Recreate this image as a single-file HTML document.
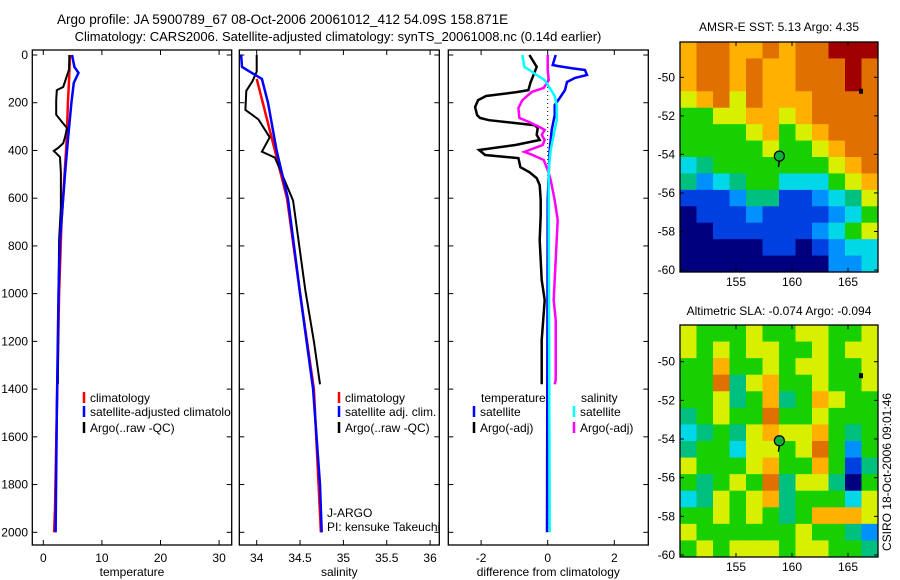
<!DOCTYPE html>
<html><head><meta charset="utf-8">
<style>
html,body{margin:0;padding:0;background:#fff;}
svg{display:block;font-family:"Liberation Sans",sans-serif;}
</style></head>
<body>
<svg id="fig" width="900" height="580" viewBox="0 0 900 580" xmlns="http://www.w3.org/2000/svg">
<rect width="900" height="580" fill="#fff"/>
<text x="57" y="24" font-size="13.5" text-anchor="start">Argo profile: JA 5900789_67 08-Oct-2006 20061012_412 54.09S 158.871E</text>
<text x="338" y="41" font-size="13" text-anchor="middle">Climatology: CARS2006. Satellite-adjusted climatology: synTS_20061008.nc (0.14d earlier)</text>
<text x="779" y="31" font-size="12" text-anchor="middle">AMSR-E SST: 5.13 Argo: 4.35</text>
<text x="779" y="315" font-size="12" text-anchor="middle">Altimetric SLA: -0.074 Argo: -0.094</text>
<text transform="translate(891,472) rotate(-90)" font-size="12" text-anchor="middle">CSIRO 18-Oct-2006 09:01:46</text>
<g id="plots"></g>
</svg>
<script>
// ---------- profile data ----------
const tempArgoDepth = [0,60,134,147,190,250,281,306,345,370,390,402,428,495,637,775,1000,1200,1380];
const tempArgo      = [4.44,4.4,3.4,2.3,2.2,2.2,3.2,4.05,3.7,3.4,2.5,1.8,2.85,3.0,3.0,2.7,2.6,2.55,2.5];
const tempSatDepth  = [0,50,75,117,200,356,500,775,1000,1500,2000];
const tempSat       = [4.9,5.3,6.0,5.2,4.8,4.2,3.7,2.85,2.6,2.3,2.1];
const tempClimDepth = [0,100,200,356,470,700,1000,1500,1900,2000];
const tempClim      = [4.55,4.4,4.2,4.0,3.7,3.1,2.7,2.3,2.0,1.85];

const salArgoDepth = [0,70,110,150,230,270,345,405,430,480,610,985,1200,1380];
const salArgo      = [34.0,34.0,33.95,33.88,33.87,34.02,34.15,34.06,34.21,34.27,34.42,34.56,34.66,34.73];
const salSatDepth  = [0,50,70,100,200,400,600,1000,1400,1800,2000];
const salSat       = [33.82,33.83,33.92,34.06,34.13,34.23,34.36,34.5,34.65,34.73,34.75];
const salClimDepth = [100,200,400,600,1000,1400,2000];
const salClim      = [34.0,34.07,34.21,34.35,34.5,34.66,34.74];

const dTArgoDepth = [0,50,117,147,155,172,189,218,252,264,273,294,306,335,356,377,398,419,432,470,491,516,545,608,671,776,943,1027,1195,1380];
const dTArgo      = [-0.55,-0.33,-0.52,-0.58,-0.91,-1.85,-2.09,-2.18,-2.12,-2.03,-1.76,-0.39,-0.3,-0.33,-0.24,-0.97,-2.06,-1.88,-0.88,-0.82,-0.55,-0.33,-0.24,-0.21,-0.21,-0.24,-0.18,-0.09,-0.18,-0.18];
const dTSatDepth  = [0,42,46,55,63,84,96,113,147,180,210,252,314,398,608,2000];
const dTSat       = [0.24,0.15,0.3,0.7,1.12,1.18,0.82,0.58,0.52,0.36,0.21,0.21,0.12,0.06,0,-0.02];
const dSSatDepth  = [0,50,63,84,105,138,172,210,273,314,356,398,482,608,2000];
const dSSat       = [-0.76,-0.7,-0.55,-0.33,-0.09,0.06,0.21,0.27,0.27,0.21,0.15,0.09,0.03,0.03,0.06];
const dSArgoDepth = [0,63,105,138,155,189,222,264,281,302,314,335,356,377,398,406,419,440,482,524,608,692,859,1027,1111,1362,1380];
const dSArgo      = [0,0,0.03,-0.12,-0.48,-0.76,-0.88,-0.85,-0.55,-0.24,-0.09,-0.18,-0.09,-0.15,-0.55,-0.7,-0.45,-0.12,0,0.09,0.21,0.3,0.24,0.18,0.24,0.24,0.21];

// ---------- map grids (colour class 0..9) ----------
const sstRows = ["788778788999","788787788898","788787788898","678687778888","556677678888","555567567888","555556556788","345555555678","423455333567","111244112346","011121111235","001111112356","000001101233","000000000223"];
const slaRows = ["655565566556","656566556566","557556566556","558467556556","556457457655","456558556555","345467667545","455366568525","655567557514","545658466405","346567455536","556565457776","655555565542","565666566554"];
const tickDepths = [0,200,400,600,800,1000,1200,1400,1600,1800,2000];
const tempTicks = [0,10,20,30];
const salTicks = [34,34.5,35,35.5,36];
const diffTicks = [-2,0,2];
const latTicks = [-50,-52,-54,-56,-58,-60];
const lonTicks = [155,160,165];

const NS="http://www.w3.org/2000/svg";
const root=document.getElementById('plots');
function mk(tag,attrs,parent){const e=document.createElementNS(NS,tag);for(const k in attrs)e.setAttribute(k,attrs[k]);(parent||root).appendChild(e);return e;}
function txt(s,x,y,anchor,size,parent){const t=mk('text',{x:x,y:y,'font-size':size||12,'text-anchor':anchor||'start'},parent);t.textContent=s;return t;}

const Y0=55, YS=(532.3-55)/2000;
const yD=d=>Y0+d*YS;
const panels=[
 {name:'temperature',l:32.3,r:231.7,x0:43.3,xs:5.86,ref:0,ticks:tempTicks,label:'temperature'},
 {name:'salinity',l:239.3,r:439.3,x0:256.7,xs:86.7,ref:34,ticks:salTicks,label:'salinity'},
 {name:'difference',l:448.3,r:648.3,x0:547.7,xs:33.3,ref:0,ticks:diffTicks,label:'difference from climatology'}
];
const PT=50, PB=545;
panels.forEach((p,i)=>{
 p.x=v=>p.x0+(v-p.ref)*p.xs;
 const g=mk('g',{});
 
 
 p.g=g;
 mk('rect',{x:p.l,y:PT,width:p.r-p.l,height:PB-PT,fill:'none',stroke:'#000','stroke-width':1.3},g);
 p.ticks.forEach(t=>{const x=p.x(t);
  mk('line',{x1:x,x2:x,y1:PB,y2:PB-5,stroke:'#000'},g);
  mk('line',{x1:x,x2:x,y1:PT,y2:PT+5,stroke:'#000'},g);
  const lb=txt(String(t),x,562,'middle',12,g);
  
  
 });
 tickDepths.forEach(d=>{const y=yD(d);
  mk('line',{x1:p.l,x2:p.l+5,y1:y,y2:y,stroke:'#000'},g);
  mk('line',{x1:p.r,x2:p.r-5,y1:y,y2:y,stroke:'#000'},g);
  if(i===0){const lb=txt(String(d),28,y+4,'end',12,g);
   
   }
 });
 const al=txt(p.label,(p.l+p.r)/2,576,'middle',12,g);
 
 
});
function line(p,depths,vals,color,name,w){
 const pts=depths.map((d,k)=>p.x(vals[k]).toFixed(1)+','+yD(d).toFixed(1)).join(' ');
 const e=mk('polyline',{points:pts,fill:'none',stroke:color,'stroke-width':w||2.5},p.g);
 
 
}
const [P1,P2,P3]=panels;
line(P1,tempClimDepth,tempClim,'#f00','temp-climatology-line');
line(P1,tempArgoDepth,tempArgo,'#000','temp-argo-line',2);
line(P1,tempSatDepth,tempSat,'#00f','temp-satellite-line');
line(P2,salClimDepth,salClim,'#f00','sal-climatology-line');
line(P2,salArgoDepth,salArgo,'#000','sal-argo-line',2);
line(P2,salSatDepth,salSat,'#00f','sal-satellite-line');
mk('line',{x1:P3.x(0),x2:P3.x(0),y1:55,y2:532,stroke:'#000','stroke-dasharray':'1,3'},P3.g);
line(P3,dTArgoDepth,dTArgo,'#000','dtemp-argo-line');
line(P3,dSArgoDepth,dSArgo,'#f0f','dsal-argo-line');
line(P3,dTSatDepth,dTSat,'#00f','dtemp-satellite-line');
line(P3,dSSatDepth,dSSat,'#0ff','dsal-satellite-line');

function legend(g,x,y,color,label){
 if(color) mk('line',{x1:x,x2:x,y1:y-10,y2:y+1,stroke:color,'stroke-width':2.5},g);
 const t=txt(label,x+6,y,'start',12,g);
 
 
}
const cp=mk('clipPath',{id:'c1'});mk('rect',{x:32,y:50,width:199,height:495},cp);
const lg1=mk('g',{'clip-path':'url(#c1)'},P1.g);
legend(lg1,84,402,'#f00','climatology');
legend(lg1,84,416,'#00f','satellite-adjusted climatology');
legend(lg1,84,432,'#000','Argo(..raw -QC)');
legend(P2.g,339,402,'#f00','climatology');
legend(P2.g,339,416,'#00f','satellite adj. clim.');
legend(P2.g,339,432,'#000','Argo(..raw -QC)');
txt('J-ARGO',327,517,'start',12,P2.g);
txt('PI: kensuke Takeuchi',327,531,'start',12,P2.g);
txt('temperature',481,402,'start',12,P3.g);
legend(P3.g,474,416,'#00f','satellite');
legend(P3.g,474,432,'#000','Argo(-adj)');
txt('salinity',581,402,'start',12,P3.g);
legend(P3.g,574,416,'#0ff','satellite');
legend(P3.g,574,432,'#f0f','Argo(-adj)');

// ---------- maps ----------
const jet=['#00007f','#0040e0','#0090ff','#00d8e8','#00c080','#18d000','#d8f000','#ffb000','#e07000','#a00000'];
function drawMap(rows,top,bottom,name,y50,ys){
 const g=mk('g',{});
 
 
 const L=680,R=878,nr=rows.length,nc=rows[0].length;
 const cw=(R-L)/nc,ch=(bottom-top)/nr;
 rows.forEach((row,r)=>{for(let c=0;c<nc;c++){
  const cell=mk('rect',{x:L+c*cw,y:top+r*ch,width:cw+0.5,height:ch+0.5,fill:jet[+row[c]]},g);
  
  
 }});
 mk('rect',{x:L,y:top,width:R-L,height:bottom-top,fill:'none',stroke:'#000','stroke-width':1.3},g);
 const lonX=v=>736+(v-155)*11.2;
 const latY=v=>y50+(-50-v)*ys;
 lonTicks.forEach(v=>{const x=lonX(v);
  mk('line',{x1:x,x2:x,y1:bottom,y2:bottom-4,stroke:'#000'},g);
  mk('line',{x1:x,x2:x,y1:top,y2:top+4,stroke:'#000'},g);
  txt(String(v),x,bottom+14,'middle',12,g);});
 latTicks.forEach(v=>{const y=latY(v);
  mk('line',{x1:L,x2:L+4,y1:y,y2:y,stroke:'#000'},g);
  mk('line',{x1:R,x2:R-4,y1:y,y2:y,stroke:'#000'},g);
  txt(String(v),675,y+4,'end',12,g);});
 const px=lonX(158.871),py=latY(-54.09);
 const m=mk('circle',{cx:px,cy:py,r:5,fill:'#10b040',stroke:'#000','stroke-width':1.2},g);
 
 
 mk('line',{x1:px,x2:px-1,y1:py+5,y2:py+11,stroke:'#000','stroke-width':1.5},g);
 mk('rect',{x:859,y:latY(-50.75)-3,width:4,height:5,fill:'#000'},g);
}
drawMap(sstRows,42,272,'sst-map',77.3,19.27);
drawMap(slaRows,325,557,'sla-map',361.7,19.33);
</script>
</body></html>
